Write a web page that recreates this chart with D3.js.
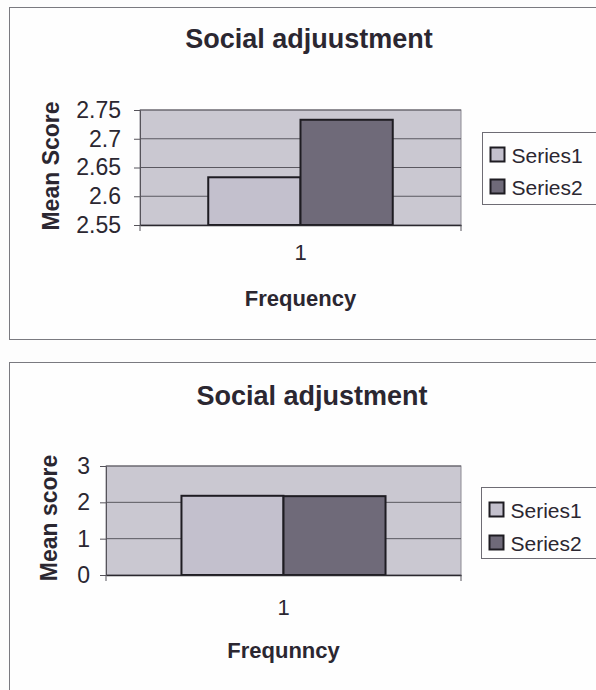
<!DOCTYPE html>
<html>
<head>
<meta charset="utf-8">
<script src="https://cdn.jsdelivr.net/npm/d3@7/dist/d3.min.js"></script>
<style>
  body { margin: 0; background: #fdfdfd; }
  svg text { font-family: "Liberation Sans", Arial, sans-serif; fill: #2b2731; }
</style>
</head>
<body>
<svg id="page" width="596" height="690"></svg>
<script>
// data
var categories = ["1"];
var seriesNames = ["Series1", "Series2"];
var seriesColors = ["#c3c0cd", "#6f6a79"];

var adjuustmentValues = [2.633, 2.733];
var adjuustmentTicks = [2.55, 2.6, 2.65, 2.7, 2.75];

var adjustmentValues = [2.18, 2.17];
var adjustmentTicks = [0, 1, 2, 3];

var svg = d3.select("#page");

//////////// one chart panel ///////////////
function drawChart(cfg) {
  var g = svg.append("g");

  // outer frame (runs off the scan on the right)
  g.append("rect")
    .attr("x", cfg.frame[0]).attr("y", cfg.frame[1])
    .attr("width", cfg.frame[2]).attr("height", cfg.frame[3])
    .attr("fill", "#fefefe")
    .attr("stroke", "#7a7a80")
    .attr("stroke-width", 1);

  g.append("text")
    .attr("x", cfg.titleX).attr("y", cfg.titleY)
    .attr("text-anchor", "middle")
    .style("font-size", "27px").style("font-weight", "bold")
    .text(cfg.title);

  var x0 = d3.scaleBand()
      .domain(categories)
      .range([cfg.left, cfg.right])
      .paddingInner(0.27).paddingOuter(0.27);
  var x1 = d3.scaleBand()
      .domain(seriesNames)
      .range([0, x0.bandwidth()]);
  var y = d3.scaleLinear()
      .domain(d3.extent(cfg.ticks))
      .range([cfg.bottom, cfg.top]);

  // plot area
  g.append("rect")
    .attr("x", cfg.left).attr("y", cfg.top)
    .attr("width", cfg.right - cfg.left).attr("height", cfg.bottom - cfg.top)
    .attr("fill", "#cac8d1")
    .attr("stroke", "#8c8a92");

  // gridlines
  g.selectAll(".grid")
    .data(cfg.ticks.slice(1))
    .enter().append("line")
      .attr("x1", cfg.left).attr("x2", cfg.right)
      .attr("y1", function(d) { return y(d); })
      .attr("y2", function(d) { return y(d); })
      .attr("stroke", "#5a5860").attr("stroke-width", 1);

  // bars
  g.selectAll(".bar")
    .data(cfg.values)
    .enter().append("rect")
      .attr("x", function(d, i) { return x0(categories[0]) + x1(seriesNames[i]); })
      .attr("y", function(d) { return y(d); })
      .attr("width", x1.bandwidth())
      .attr("height", function(d) { return cfg.bottom - y(d); })
      .attr("fill", function(d, i) { return seriesColors[i]; })
      .attr("stroke", "#1e1c22").attr("stroke-width", 2);

  // y axis
  var yAxis = g.append("g")
    .attr("transform", "translate(" + cfg.left + ",0)")
    .call(d3.axisLeft(y).tickValues(cfg.ticks).tickSize(6).tickPadding(cfg.tickPad)
      .tickFormat(function(d) { return String(+d.toFixed(2)); }));
  yAxis.select(".domain").attr("stroke", "#55535a");
  yAxis.selectAll("line").attr("stroke", "#55535a");
  yAxis.selectAll("text")
    .style("font-size", "23px")
    .style("font-family", "Liberation Sans, Arial, sans-serif")
    .attr("fill", "#2b2731");

  // x axis: ticks at the category edges, label in the middle
  var xAxis = g.append("g")
    .attr("transform", "translate(0," + cfg.bottom + ")")
    .call(d3.axisBottom(x0).tickSize(0).tickPadding(cfg.catPad));
  xAxis.select(".domain").attr("stroke", "#2a282e").attr("stroke-width", 1.5);
  xAxis.selectAll("text")
    .style("font-size", "22px")
    .style("font-family", "Liberation Sans, Arial, sans-serif")
    .attr("fill", "#2b2731");
  g.selectAll(".edge")
    .data([cfg.left, cfg.right])
    .enter().append("line")
      .attr("x1", function(d) { return d; }).attr("x2", function(d) { return d; })
      .attr("y1", cfg.bottom).attr("y2", cfg.bottom + 6)
      .attr("stroke", "#55535a");

  // axis titles
  g.append("text")
    .attr("x", x0(categories[0]) + x0.bandwidth() / 2).attr("y", cfg.xTitleY)
    .attr("text-anchor", "middle")
    .style("font-size", "22px").style("font-weight", "bold")
    .text(cfg.xTitle);

  g.append("text")
    .attr("transform", "translate(" + cfg.yTitleX + "," + cfg.yTitleY + ") rotate(-90)")
    .attr("text-anchor", "middle")
    .style("font-size", "23px").style("font-weight", "bold")
    .text(cfg.yTitle);

  // legend
  var lg = g.append("g").attr("transform", "translate(" + cfg.legend[0] + "," + cfg.legend[1] + ")");
  lg.append("rect")
    .attr("width", 130).attr("height", cfg.legend[2])
    .attr("fill", "#fefefe").attr("stroke", "#6e6c74");
  var item = lg.selectAll(".item")
    .data(seriesNames)
    .enter().append("g")
      .attr("transform", function(d, i) { return "translate(8," + (15 + i * cfg.legendStep) + ")"; });
  item.append("rect")
    .attr("width", 14).attr("height", 14)
    .attr("fill", function(d, i) { return seriesColors[i]; })
    .attr("stroke", "#1e1c22").attr("stroke-width", 2);
  item.append("text")
    .attr("x", 21).attr("y", 15)
    .style("font-size", "21px")
    .text(function(d) { return d; });
}

drawChart({
  frame: [9.5, 7.5, 620, 332],
  title: "Social adjuustment", titleX: 309, titleY: 48,
  left: 140, right: 461, top: 110, bottom: 225,
  values: adjuustmentValues, ticks: adjuustmentTicks, tickPad: 13,
  catPad: 19, xTitle: "Frequency", xTitleY: 306,
  yTitle: "Mean Score", yTitleX: 59, yTitleY: 166,
  legend: [482.5, 132.5, 72], legendStep: 32
});

drawChart({
  frame: [9.5, 362.5, 620, 360],
  title: "Social adjustment", titleX: 312, titleY: 405,
  left: 106, right: 461, top: 466, bottom: 575,
  values: adjustmentValues, ticks: adjustmentTicks, tickPad: 10,
  catPad: 24, xTitle: "Frequnncy", xTitleY: 658,
  yTitle: "Mean score", yTitleX: 57, yTitleY: 518,
  legend: [481.5, 487.5, 71], legendStep: 33
});
</script>
</body>
</html>
